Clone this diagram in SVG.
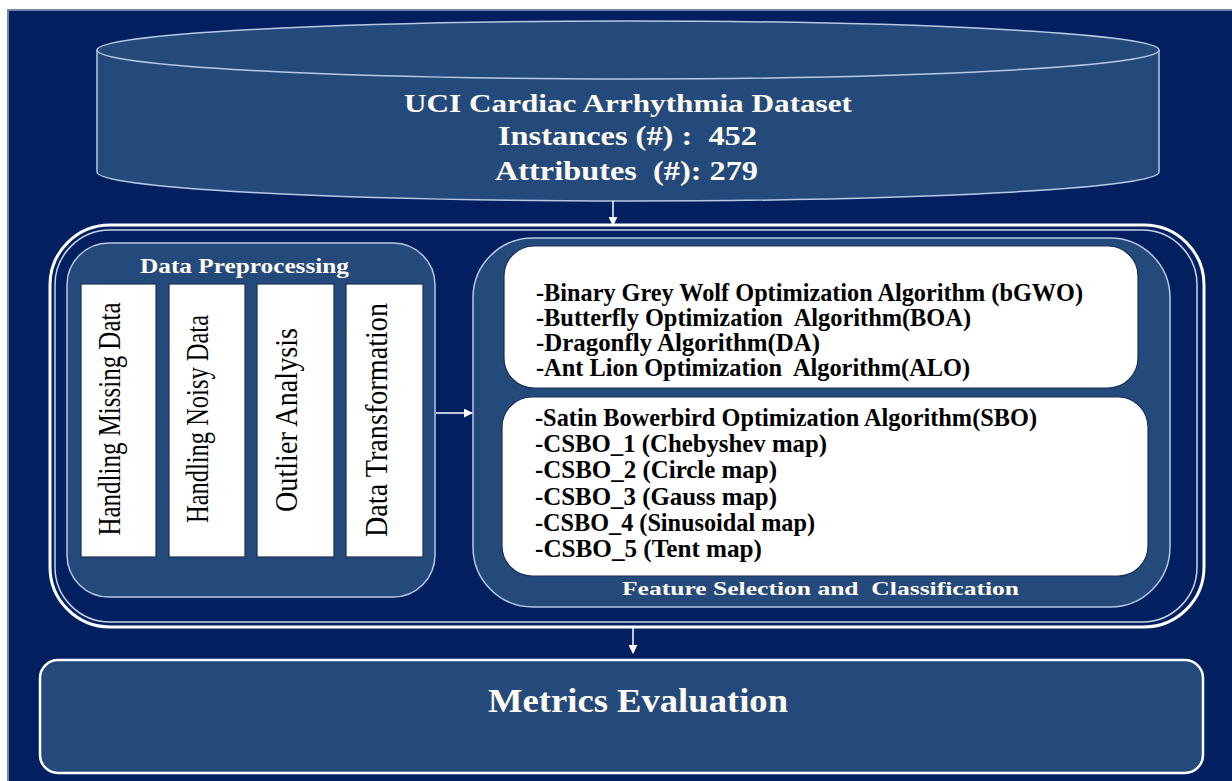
<svg xmlns="http://www.w3.org/2000/svg" width="1232" height="781" viewBox="0 0 1232 781">
  <defs>
    <marker id="ah" viewBox="0 0 10 10" refX="9" refY="5" markerWidth="9" markerHeight="9" markerUnits="userSpaceOnUse" orient="auto">
      <path d="M0,0 L10,5 L0,10 Z" fill="#ffffff"/>
    </marker>
    <style>
      .bg { fill: #022060; stroke: #7386a4; stroke-width: 2; }
      .panel { fill: #244a7c; stroke: #b9c9e2; stroke-width: 1.5; }
      .wbox { fill: #ffffff; stroke: #1c2f55; stroke-width: 1.2; }
      .ttl { font-family: "Liberation Serif", "Times New Roman", serif; font-weight: bold; fill: #fffaf0; }
      .item { font-family: "Liberation Serif", "Times New Roman", serif; font-weight: bold; font-size: 25px; fill: #000000; }
      .vert { font-family: "Liberation Serif", "Times New Roman", serif; font-size: 31px; fill: #000000; text-anchor: middle; }
      .conn { stroke: #ffffff; stroke-width: 1.5; fill: none; marker-end: url(#ah); }
    </style>
  </defs>

  <rect x="0" y="0" width="1232" height="781" fill="#ffffff"/>
  <rect class="bg" x="8" y="10" width="1226" height="773"/>

  <g id="dataset">
    <path class="panel" d="M97,50 L97,172 A531,29 0 0 0 1159,172 L1159,50"/>
    <ellipse class="panel" cx="628" cy="50" rx="531" ry="29"/>
    <text class="ttl" x="404" y="112" font-size="25" textLength="448" lengthAdjust="spacingAndGlyphs">UCI Cardiac Arrhythmia Dataset</text>
    <text class="ttl" x="498" y="145" font-size="27" textLength="259" lengthAdjust="spacingAndGlyphs" xml:space="preserve">Instances (#) :  452</text>
    <text class="ttl" x="495" y="180" font-size="27" textLength="263" lengthAdjust="spacingAndGlyphs" xml:space="preserve">Attributes  (#): 279</text>
  </g>

  <g id="outer-frame">
    <rect x="50" y="225" width="1154" height="402" rx="60" ry="60" fill="none" stroke="#ffffff" stroke-width="3"/>
    <rect x="55" y="230" width="1142" height="392" rx="55" ry="55" fill="none" stroke="#c9d3e3" stroke-width="1.5"/>
  </g>

  <g id="preprocessing">
    <rect class="panel" x="67" y="243" width="368" height="354" rx="42" ry="42"/>
    <text class="ttl" x="140" y="273" font-size="21" textLength="209" lengthAdjust="spacingAndGlyphs">Data Preprocessing</text>
    <g id="missing">
      <rect class="wbox" x="81" y="284" width="75" height="273"/>
      <text class="vert" transform="translate(120,419) rotate(-90)" textLength="233" lengthAdjust="spacingAndGlyphs">Handling Missing Data</text>
    </g>
    <g id="noisy">
      <rect class="wbox" x="169" y="284" width="76" height="273"/>
      <text class="vert" transform="translate(208,419) rotate(-90)" textLength="208" lengthAdjust="spacingAndGlyphs">Handling Noisy Data</text>
    </g>
    <g id="outlier">
      <rect class="wbox" x="257" y="284" width="77" height="273"/>
      <text class="vert" transform="translate(297,420) rotate(-90)" textLength="184" lengthAdjust="spacingAndGlyphs">Outlier Analysis</text>
    </g>
    <g id="transformation">
      <rect class="wbox" x="346" y="284" width="77" height="273"/>
      <text class="vert" transform="translate(387,420) rotate(-90)" textLength="234" lengthAdjust="spacingAndGlyphs">Data Transformation</text>
    </g>
  </g>

  <g id="feature-selection">
    <rect class="panel" x="473" y="238" width="697" height="369" rx="60" ry="60"/>
    <g id="baseline-algorithms">
      <rect class="wbox" x="504" y="246" width="634" height="142" rx="30" ry="30"/>
      <text class="item" x="536" y="301" textLength="547" lengthAdjust="spacingAndGlyphs">-Binary Grey Wolf Optimization Algorithm (bGWO)</text>
      <text class="item" x="536" y="326" textLength="435" lengthAdjust="spacingAndGlyphs" xml:space="preserve">-Butterfly Optimization  Algorithm(BOA)</text>
      <text class="item" x="536" y="351" textLength="284" lengthAdjust="spacingAndGlyphs">-Dragonfly Algorithm(DA)</text>
      <text class="item" x="536" y="376" textLength="434" lengthAdjust="spacingAndGlyphs" xml:space="preserve">-Ant Lion Optimization  Algorithm(ALO)</text>
    </g>
    <g id="csbo-algorithms">
      <rect class="wbox" x="502" y="397" width="646" height="179" rx="30" ry="30"/>
      <text class="item" x="535" y="426" textLength="502" lengthAdjust="spacingAndGlyphs">-Satin Bowerbird Optimization Algorithm(SBO)</text>
      <text class="item" x="535" y="452" textLength="292" lengthAdjust="spacingAndGlyphs">-CSBO_1 (Chebyshev map)</text>
      <text class="item" x="535" y="478" textLength="242" lengthAdjust="spacingAndGlyphs">-CSBO_2 (Circle map)</text>
      <text class="item" x="535" y="505" textLength="242" lengthAdjust="spacingAndGlyphs">-CSBO_3 (Gauss map)</text>
      <text class="item" x="535" y="531" textLength="280" lengthAdjust="spacingAndGlyphs">-CSBO_4 (Sinusoidal map)</text>
      <text class="item" x="535" y="557" textLength="227" lengthAdjust="spacingAndGlyphs">-CSBO_5 (Tent map)</text>
    </g>
    <text class="ttl" x="622" y="595" font-size="19" textLength="397" lengthAdjust="spacingAndGlyphs" xml:space="preserve">Feature Selection and  Classification</text>
  </g>

  <g id="metrics">
    <rect x="40" y="660" width="1163" height="113" rx="18" ry="18" fill="#244a7c" stroke="#ffffff" stroke-width="2.5"/>
    <text class="ttl" x="488" y="712" font-size="33" textLength="300" lengthAdjust="spacingAndGlyphs">Metrics Evaluation</text>
  </g>

  <g id="connectors">
    <line class="conn" x1="613" y1="201" x2="613" y2="225"/>
    <line class="conn" x1="436" y1="413" x2="472" y2="413"/>
    <line class="conn" x1="633" y1="628" x2="633" y2="653"/>
  </g>
</svg>
